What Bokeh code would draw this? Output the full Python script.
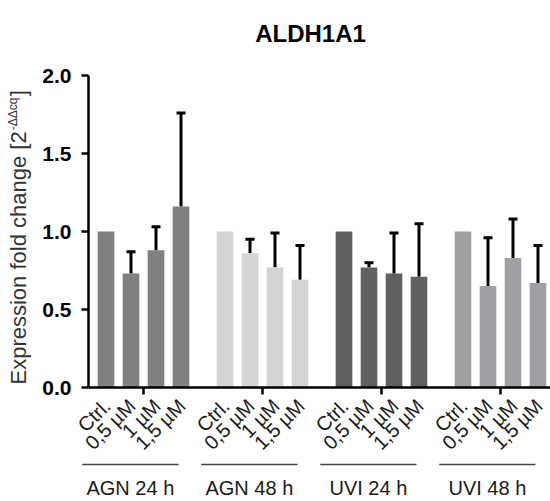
import math
from bokeh.plotting import figure
from bokeh.models import (ColumnDataSource, Range1d, FixedTicker, Whisker, TeeHead,
                          NumeralTickFormatter)
from bokeh.core.properties import value
from bokeh.embed import file_html
from bokeh.resources import INLINE

# ---------------- data ----------------
groups = ["AGN 24 h", "AGN 48 h", "UVI 24 h", "UVI 48 h"]
conditions = ["Ctrl.", "0,5 µM", "1 µM", "1,5 µM"]
group_colors = ["#808080", "#d4d4d4", "#606060", "#a0a0a4"]

mean_agn24 = [1.00, 0.73, 0.88, 1.16]
mean_agn48 = [1.00, 0.86, 0.77, 0.69]
mean_uvi24 = [1.00, 0.77, 0.73, 0.71]
mean_uvi48 = [1.00, 0.65, 0.83, 0.67]

upper_agn24 = [None, 0.87, 1.03, 1.76]
upper_agn48 = [None, 0.95, 0.99, 0.91]
upper_uvi24 = [None, 0.80, 0.99, 1.05]
upper_uvi48 = [None, 0.96, 1.08, 0.91]

y_ticks = [0.0, 0.5, 1.0, 1.5, 2.0]
title = "ALDH1A1"
y_label_main = "Expression fold change [2"
y_label_sup = "-ΔΔcq"
y_label_end = "]"

means = [mean_agn24, mean_agn48, mean_uvi24, mean_uvi48]
uppers = [upper_agn24, upper_agn48, upper_uvi24, upper_uvi48]

# ---------------- layout constants ----------------
W, H = 550, 501
FONT = "Liberation Sans"
GROUP_STEP = 4.76          # x units between groups
PX_X = 25.0                # px per x unit
PX_Y = 156.0               # px per y unit
AXIS_PX = 88               # canvas column of the y axis
ZERO_PX = 387              # canvas row of y = 0
X_AT_AXIS = -0.70          # data x at the y axis

x_start = X_AT_AXIS - AXIS_PX / PX_X
x_end = x_start + W / PX_X
y_end = ZERO_PX / PX_Y
y_start = -(H - ZERO_PX) / PX_Y

def dy(px):
    return px / PX_Y

def dx(px):
    return px / PX_X

def xpx(px):   # canvas column -> data x
    return x_start + px / PX_X

def ypx(px):   # canvas row -> data y
    return y_end - px / PX_Y

# ---------------- build sources ----------------
bx, btop, bcol, blab = [], [], [], []
wx, wbase, wup = [], [], []
for g, (ms, us) in enumerate(zip(means, uppers)):
    for i, (m, u) in enumerate(zip(ms, us)):
        x = g * GROUP_STEP + i
        bx.append(x)
        btop.append(m)
        bcol.append(group_colors[g])
        blab.append(conditions[i])
        if u is not None:
            wx.append(x)
            wbase.append(m)
            wup.append(u)

bars = ColumnDataSource(dict(x=bx, top=btop, color=bcol, label=blab))
whisk = ColumnDataSource(dict(x=wx, base=wbase, upper=wup))

p = figure(width=W, height=H, output_backend="svg", toolbar_location=None,
           x_range=Range1d(x_start, x_end), y_range=Range1d(y_start, y_end),
           min_border_left=0, min_border_right=0, min_border_top=0,
           min_border_bottom=0)
p.outline_line_color = None
p.grid.visible = False
p.xaxis.visible = False
p.background_fill_color = "white"
p.border_fill_color = "white"

# bars
p.vbar(x="x", top="top", bottom=0, width=0.665, color="color", line_color=None,
       source=bars)

# error bars (upper only)
w = Whisker(base="x", lower="base", upper="upper", source=whisk, dimension="height",
            line_color="black", line_width=3,
            upper_head=TeeHead(size=9, line_color="black", line_width=3),
            lower_head=None)
p.add_layout(w)

# x axis line at y=0 (from the y axis to the right edge)
p.segment(x0=[X_AT_AXIS], x1=[x_end], y0=[0], y1=[0], line_color="black", line_width=2.5)

# group ticks
gc = [g * GROUP_STEP + 1.5 for g in range(len(groups))]
p.segment(x0=gc, x1=gc, y0=[0] * 4, y1=[-dy(7)] * 4, line_color="black", line_width=2.5)

# rotated condition labels
p.text(x=[x + dx(1) for x in bx], y=[-dy(15)] * len(bx), text=blab,
       angle=math.pi / 4, text_align="right", text_baseline="middle",
       text_font=value(FONT), text_font_size="20px", text_color="#1a1a1a")

# group lines and labels
lx0 = [g * GROUP_STEP - 0.95 for g in range(len(groups))]
lx1 = [g * GROUP_STEP + 2.9 for g in range(len(groups))]
p.segment(x0=lx0, x1=lx1, y0=[-dy(77)] * 4, y1=[-dy(77)] * 4,
          line_color="#444444", line_width=1.5)
p.text(x=[(a + b) / 2 for a, b in zip(lx0, lx1)], y=[-dy(100)] * 4, text=groups,
       text_align="center", text_baseline="middle",
       text_font=value(FONT), text_font_size="20px", text_color="#1a1a1a")

# y axis, drawn at a fixed data location inside the frame
ya = p.yaxis[0]
ya.fixed_location = X_AT_AXIS
ya.bounds = (0, 2)
ya.ticker = FixedTicker(ticks=y_ticks)
ya.formatter = NumeralTickFormatter(format="0.0")
ya.minor_tick_line_color = None
ya.major_tick_in = 0
ya.major_tick_out = 7
ya.major_tick_line_width = 2.5
ya.axis_line_width = 2.5
ya.major_label_text_font = FONT
ya.major_label_text_font_size = "21px"
ya.major_label_text_font_style = "bold"
ya.major_label_text_color = "black"
ya.major_label_standoff = 10

# title
p.text(x=[xpx(310)], y=[ypx(33)], text=[title], text_align="center",
       text_baseline="middle", text_font=value(FONT), text_font_size="24px",
       text_font_style="bold", text_color="black")

# y axis label with superscript
YL = 22
main_len = 11.506 * YL
p.text(x=[xpx(18)], y=[ypx(384)], text=[y_label_main], angle=math.pi / 2,
       text_align="left", text_baseline="middle", text_font=value(FONT),
       text_font_size=f"{YL}px", text_color="#333333")
p.text(x=[xpx(12)], y=[ypx(384 - main_len - 1)], text=[y_label_sup], angle=math.pi / 2,
       text_align="left", text_baseline="middle", text_font=value(FONT),
       text_font_size="12px", text_color="#333333")
p.text(x=[xpx(18)], y=[ypx(384 - main_len - 35)], text=[y_label_end], angle=math.pi / 2,
       text_align="left", text_baseline="middle", text_font=value(FONT),
       text_font_size=f"{YL}px", text_color="#333333")

open("out.html", "w").write(file_html(p, INLINE))
